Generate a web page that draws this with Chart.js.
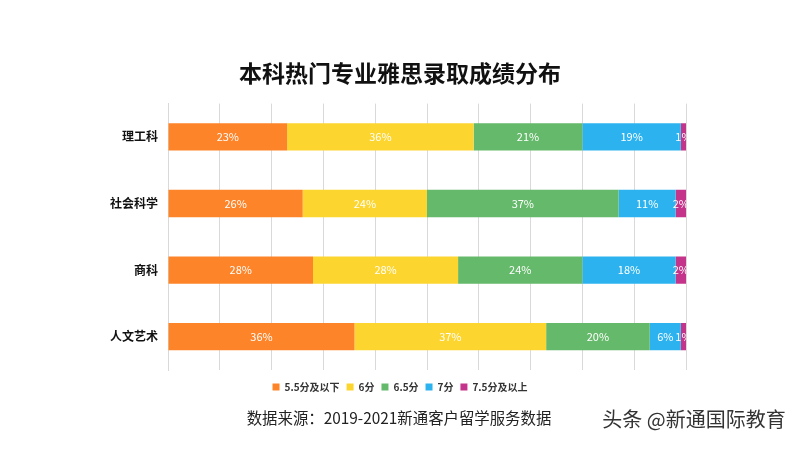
<!DOCTYPE html>
<html>
<head>
<meta charset="utf-8">
<script src="https://cdn.jsdelivr.net/npm/chart.js@4/dist/chart.umd.min.js"></script>
<style>
  html, body { margin: 0; padding: 0; background: #fff; }
  #wrap { width: 800px; height: 450px; position: relative; }
</style>
</head>
<body>
<div id="wrap"><canvas id="c"></canvas></div>
<script>
const majors = ['理工科', '社会科学', '商科', '人文艺术'];
const seriesNames = ['5.5分及以下', '6分', '6.5分', '7分', '7.5分及以上'];
const s55 = [23, 26, 28, 36];
const s6 = [36, 24, 28, 37];
const s65 = [21, 37, 24, 20];
const s7 = [19, 11, 18, 6];
const s75 = [1, 2, 2, 1];
const colors = ['#FD8428', '#FDD52F', '#65B96A', '#2CB3EF', '#C4348A'];

const fontFam = '"Noto Sans CJK SC", "Microsoft YaHei", sans-serif';

const segLabels = {
  id: 'segLabels',
  afterDatasetsDraw(chart) {
    const { ctx, chartArea } = chart;
    ctx.save();
    ctx.beginPath();
    ctx.rect(chartArea.left, chartArea.top, chartArea.right - chartArea.left, chartArea.bottom - chartArea.top);
    ctx.clip();
    ctx.fillStyle = '#fff';
    ctx.font = '11px ' + fontFam;
    ctx.textAlign = 'center';
    ctx.textBaseline = 'middle';
    chart.data.datasets.forEach((ds, i) => {
      chart.getDatasetMeta(i).data.forEach((bar, j) => {
        const x = (bar.x + bar.base) / 2;
        ctx.fillText(ds.data[j] + '%', x, bar.y);
      });
    });
    ctx.restore();
  }
};

const footer = {
  id: 'footer',
  afterDraw(chart) {
    const ctx = chart.ctx;
    ctx.save();
    ctx.textBaseline = 'middle';
    ctx.textAlign = 'center';
    ctx.fillStyle = '#222';
    ctx.font = '15.4px ' + fontFam;
    ctx.fillText('数据来源：2019-2021新通客户留学服务数据', 399, 418);
    ctx.fillStyle = '#333';
    ctx.font = '20px ' + fontFam;
    ctx.fillText('头条 @新通国际教育', 694, 419);
    ctx.restore();
  }
};

new Chart(document.getElementById('c'), {
  type: 'bar',
  data: {
    labels: majors,
    datasets: [s55, s6, s65, s7, s75].map((d, i) => ({
      label: seriesNames[i],
      data: d,
      backgroundColor: colors[i],
      borderWidth: 0,
      categoryPercentage: 1,
      barPercentage: 0.41
    }))
  },
  options: {
    indexAxis: 'y',
    responsive: true,
    maintainAspectRatio: false,
    animation: false,
    layout: { padding: { left: 0, right: 0, top: 0, bottom: 48 } },
    plugins: {
      title: {
        display: true,
        text: '本科热门专业雅思录取成绩分布',
        color: '#111',
        font: { size: 23, weight: 'bold', family: fontFam },
        padding: { top: 59, bottom: 17 }
      },
      legend: {
        position: 'bottom',
        labels: {
          boxWidth: 7,
          boxHeight: 7,
          padding: 7,
          color: '#333',
          font: { size: 10, weight: 'bold', family: fontFam }
        }
      },
      tooltip: { enabled: false }
    },
    scales: {
      x: {
        stacked: true,
        min: 0,
        max: 100,
        afterFit(scale) { scale.height = 5; },
        ticks: { display: false, stepSize: 10 },
        grid: { color: '#d9d9d9', drawTicks: false },
        border: { display: false }
      },
      y: {
        stacked: true,
        afterFit(scale) { scale.width = 168; },
        ticks: { color: '#111', padding: 10, font: { size: 12, weight: 'bold', family: fontFam } },
        grid: { display: false, drawTicks: false },
        border: { display: true, color: '#d9d9d9' }
      },
      yPad: {
        type: 'category',
        position: 'right',
        afterFit(scale) { scale.width = 114; },
        ticks: { display: false },
        grid: { display: false, drawTicks: false },
        border: { display: false }
      }
    }
  },
  plugins: [segLabels, footer]
});
</script>
</body>
</html>
